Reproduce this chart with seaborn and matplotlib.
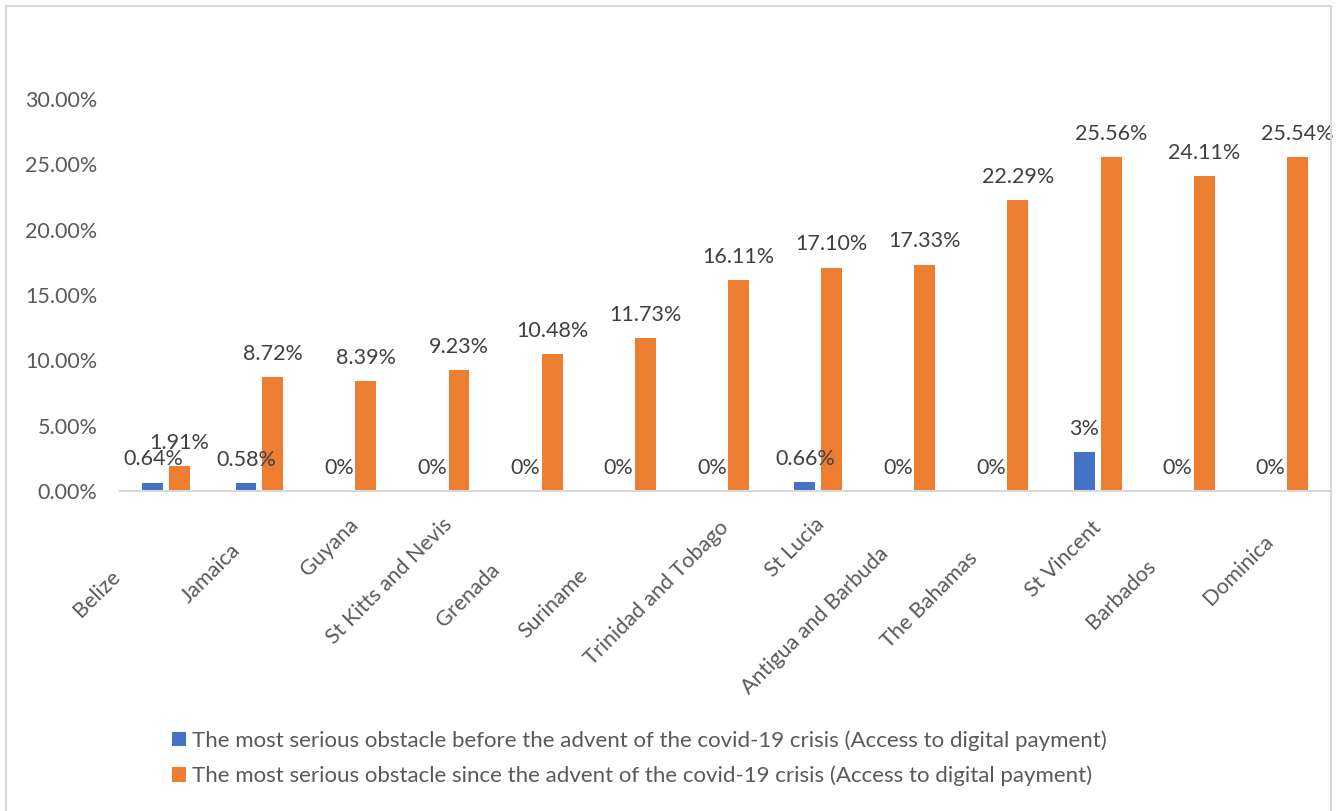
import matplotlib
matplotlib.use("Agg")
import matplotlib.pyplot as plt
import seaborn as sns
import pandas as pd
from matplotlib.patches import Rectangle
from matplotlib.ticker import FuncFormatter
from matplotlib.transforms import ScaledTranslation

countries = ["Belize", "Jamaica", "Guyana", "St Kitts and Nevis", "Grenada", "Suriname",
             "Trinidad and Tobago", "St Lucia", "Antigua and Barbuda", "The Bahamas",
             "St Vincent", "Barbados", "Dominica"]
before = [0.0064, 0.0058, 0, 0, 0, 0, 0, 0.0066, 0, 0, 0.03, 0, 0]
since = [0.0191, 0.0872, 0.0839, 0.0923, 0.1048, 0.1173, 0.1611, 0.1710, 0.1733,
         0.2229, 0.2556, 0.2411, 0.2554]
before_labels = ["0.64%", "0.58%", "0%", "0%", "0%", "0%", "0%", "0.66%", "0%", "0%",
                 "3%", "0%", "0%"]
since_labels = ["1.91%", "8.72%", "8.39%", "9.23%", "10.48%", "11.73%", "16.11%",
                "17.10%", "17.33%", "22.29%", "25.56%", "24.11%", "25.54%"]
series = ["The most serious obstacle before the advent of the covid-19 crisis (Access to digital payment)",
          "The most serious obstacle since the advent of the covid-19 crisis (Access to digital payment)"]
yticks = [0, 0.05, 0.10, 0.15, 0.20, 0.25, 0.30]

df = pd.DataFrame({
    "country": countries * 2,
    "value": before + since,
    "series": [series[0]] * len(countries) + [series[1]] * len(countries),
})

sns.set_theme(style="white")
plt.rcParams["font.family"] = ["Lato", "DejaVu Sans"]
TEXT = "#595959"
FS = 15.5

fig = plt.figure(figsize=(13.38, 8.11), dpi=100)
ax = fig.add_axes([119.6 / 1338, 1 - 491 / 811, (1330.6 - 119.6) / 1338, (491 - 99) / 811])

sns.barplot(data=df, x="country", y="value", hue="series", order=countries,
            hue_order=series, palette=["#4472C4", "#ED7D31"], saturation=1,
            width=0.573, gap=0.215, ax=ax, legend=True, edgecolor="none", linewidth=0)

for cont, labs in zip(ax.containers, [before_labels, since_labels]):
    ax.bar_label(cont, labels=labs, padding=9.5, fontsize=FS, color="#404040")

ax.set_ylim(0, 0.30)
ax.set_xlim(-0.5, len(countries) - 0.5)
ax.set_yticks(yticks)
ax.yaxis.set_major_formatter(FuncFormatter(lambda v, p: f"{v*100:.2f}%"))
ax.tick_params(axis="y", length=0, pad=16, labelsize=FS, labelcolor=TEXT)
ax.tick_params(axis="x", length=0, pad=17, labelsize=FS, labelcolor=TEXT)
ax.set_xlabel("")
ax.set_ylabel("")

# Excel-like staggered placement of the rotated category labels (pixels along the text direction)
label_shift_px = [52, 25, 0, 0, 45, 50, 3, 0, 29, 33, 3, 41, 17]
for lab, s in zip(ax.get_xticklabels(), label_shift_px):
    lab.set_rotation(45)
    lab.set_ha("right")
    lab.set_va("top")
    lab.set_rotation_mode("anchor")
    off = ScaledTranslation((-4 - s) / 100, (-s) / 100, fig.dpi_scale_trans)
    lab.set_transform(lab.get_transform() + off)

for s in ["left", "right", "top"]:
    ax.spines[s].set_visible(False)
ax.spines["bottom"].set_color("#D9D9D9")
ax.spines["bottom"].set_linewidth(1.5)

leg = ax.legend(loc="upper left", bbox_to_anchor=(172 / 1338, 1 - 730 / 811),
                bbox_transform=fig.transFigure, frameon=False, fontsize=16,
                handlelength=0.63, handleheight=0.63, handletextpad=0.27,
                labelspacing=0.68, borderpad=0, borderaxespad=0)
for t in leg.get_texts():
    t.set_color(TEXT)

fig.patches.append(Rectangle((6.5 / 1338, -0.01), (1331 - 6.5) / 1338, 1.01 - 5.5 / 811,
                             transform=fig.transFigure, fill=False,
                             edgecolor="#D9D9D9", linewidth=1.5))

fig.savefig("out.png", dpi=100, facecolor="white")
